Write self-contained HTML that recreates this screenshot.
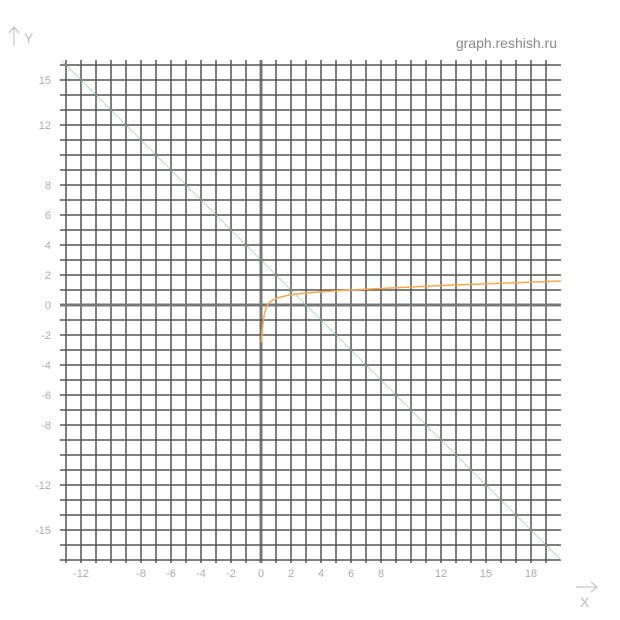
<!DOCTYPE html>
<html><head><meta charset="utf-8"><style>
body{margin:0;background:#fff;}
svg{display:block;font-family:"Liberation Sans",sans-serif;}
</style></head><body>
<svg id="chart" width="620" height="620" viewBox="0 0 620 620">
<text x="557" y="48" text-anchor="end" font-size="14" fill="#888">graph.reshish.ru</text>
<g fill="#bbb" stroke="#bbb">
<line x1="14" y1="46" x2="14" y2="28" stroke-width="1"/><polyline points="9,33 14,27 19,33" fill="none" stroke-width="1"/>
<text x="24" y="43" font-size="14" stroke="none">Y</text></g>
<g fill="#bbb" stroke="#bbb">
<line x1="576" y1="587" x2="596" y2="587" stroke-width="1"/><polyline points="591,582 597,587 591,592" fill="none" stroke-width="1"/>
<text x="580" y="607" font-size="14" stroke="none">X</text></g>
<g id="grid"></g><g id="ticks"></g><g id="series"></g>
</svg>
<script>
const xTickLabels=[-12,-8,-6,-4,-2,0,2,4,6,8,12,15,18];
const yTickLabels=[15,12,8,6,4,2,0,-2,-4,-6,-8,-12,-15];
const curveX=[0.02,0.05,0.1,0.16,0.25,0.38,0.55,0.8,1.2,1.9,3,5,8,12,16,20];
const curveY=[-2.5,-2.1,-1.5,-1,-0.5,-0.1,0.15,0.33,0.5,0.67,0.8,0.95,1.1,1.3,1.45,1.6];
const lineX=[-13.3,20];
const lineY=[16.3,-17];
const X0=261,Y0=305,U=15;
const sx=v=>X0+v*U, sy=v=>Y0-v*U;
const NS="http://www.w3.org/2000/svg";
function mk(t,a,p){const e=document.createElementNS(NS,t);for(const k in a)e.setAttribute(k,a[k]);p.appendChild(e);return e;}
const grid=document.getElementById('grid');
for(let i=-13;i<=19;i++){
 const l=mk('line',{x1:sx(i),x2:sx(i),y1:60,y2:563,stroke:i===0?'#777':'#555','stroke-width':i===0?3:1.5},grid);
 
 
}
for(let j=-17;j<=16;j++){
 const l=mk('line',{x1:60,x2:561,y1:sy(j),y2:sy(j),stroke:j===0?'#777':'#555','stroke-width':j===0?3:1.5},grid);
 
 
}
const ticks=document.getElementById('ticks');
xTickLabels.forEach(v=>{const t=mk('text',{x:sx(v),y:577,'text-anchor':'middle','font-size':11,fill:'#aaa'},ticks);t.textContent=v;
 
 });
yTickLabels.forEach(v=>{const t=mk('text',{x:51,y:sy(v)+4,'text-anchor':'end','font-size':11,fill:'#aaa'},ticks);t.textContent=v;
 
 });
const ser=document.getElementById('series');
const ln=mk('line',{x1:sx(lineX[0]),y1:sy(lineY[0]),x2:sx(lineX[1]),y2:sy(lineY[1]),stroke:'#8fd88f','stroke-width':0.7},ser);


const c=mk('polyline',{points:curveX.map((x,i)=>sx(x)+','+sy(curveY[i])).join(' '),fill:'none',stroke:'#f5a84a','stroke-width':1.5,'stroke-linejoin':'round'},ser);


</script>
</body></html>
